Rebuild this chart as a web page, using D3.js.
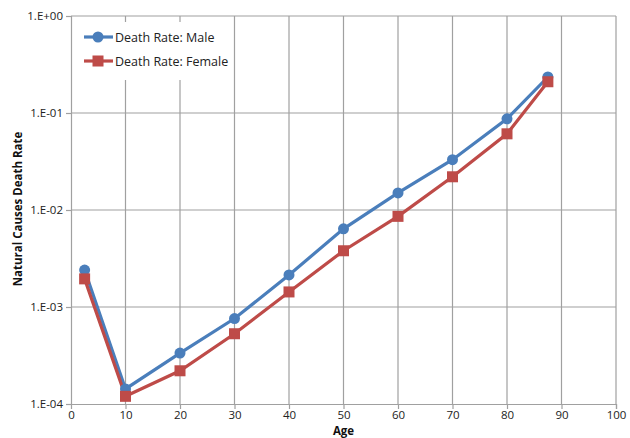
<!DOCTYPE html>
<html><head><meta charset="utf-8">
<script src="https://cdn.jsdelivr.net/npm/d3@7"></script>
<style>body{margin:0;background:#fff}svg{display:block}text{font-family:"Open Sans","Liberation Sans",sans-serif}</style>
</head><body><svg id="c" width="630" height="438"></svg>
<script>
const ages = [2.5, 10, 20, 30, 40, 50, 60, 70, 80, 87.5];
const male = [2.4e-3, 1.43e-4, 3.35e-4, 7.6e-4, 2.14e-3, 6.4e-3, 1.5e-2, 3.3e-2, 8.7e-2, 0.235];
const female = [1.95e-3, 1.2e-4, 2.2e-4, 5.3e-4, 1.43e-3, 3.8e-3, 8.6e-3, 2.2e-2, 6.1e-2, 0.21];
const xTicks = [0,10,20,30,40,50,60,70,80,90,100];
const yTicks = [1e-4,1e-3,1e-2,1e-1,1];
const yLabels = ["1.E-04","1.E-03","1.E-02","1.E-01","1.E+00"];
const seriesNames = ["Death Rate: Male","Death Rate: Female"];
const colors = ["#4a7ebb","#be4b48"];

const svg = d3.select("#c");
const L=71,R=616,T=16,B=404;
const x = d3.scaleLinear().domain([0,100]).range([L,R]);
const y = d3.scaleLog().domain([1e-4,1]).range([B,T]);
const grid="#a0a0a0";
svg.append("g").selectAll("line").data(xTicks.slice(1)).join("line")
  .attr("x1",d=>x(d)).attr("x2",d=>x(d)).attr("y1",T).attr("y2",B)
  .attr("stroke",grid).attr("stroke-width",1.2);
svg.append("g").selectAll("line").data(yTicks.slice(1)).join("line")
  .attr("x1",L).attr("x2",R).attr("y1",d=>y(d)).attr("y2",d=>y(d))
  .attr("stroke",grid).attr("stroke-width",1.2);
const xa = svg.append("g").attr("transform",`translate(0,${B})`)
  .call(d3.axisBottom(x).tickValues(xTicks).tickSize(5).tickPadding(2));
const ya = svg.append("g").attr("transform",`translate(${L},0)`)
  .call(d3.axisLeft(y).tickValues(yTicks).tickFormat((d,i)=>yLabels[i]).tickSize(5).tickPadding(3));
[xa,ya].forEach(a=>{a.select(".domain").attr("stroke",grid).attr("stroke-width",1.2);
 a.selectAll(".tick line").attr("stroke",grid).attr("stroke-width",1.2);
 a.selectAll("text").attr("font-size",11.5).attr("fill","#222").attr("font-family",'"Open Sans","Liberation Sans",sans-serif');});
xa.selectAll(".tick").filter(d=>d===0).select("line").remove();

svg.append("text").attr("x",x(50)).attr("y",435).attr("text-anchor","middle")
 .attr("font-size",11.5).attr("font-weight","bold").attr("fill","#111").text("Age");
svg.append("text").attr("transform",`translate(22,209) rotate(-90)`).attr("text-anchor","middle")
 .attr("font-size",11.5).attr("font-weight","bold").attr("fill","#111").text("Natural Causes Death Rate");

svg.append("rect").attr("x",78).attr("y",22).attr("width",150).attr("height",58).attr("fill","#fff");

const data=[male,female];
const line=d3.line().x((d,i)=>x(ages[i])).y(d=>y(d));
data.forEach((s,k)=>{
  svg.append("path").datum(s).attr("d",line).attr("fill","none").attr("stroke",colors[k]).attr("stroke-width",3.2);
});
svg.append("g").selectAll("circle").data(male).join("circle")
 .attr("cx",(d,i)=>x(ages[i])).attr("cy",d=>y(d)).attr("r",5.5).attr("fill",colors[0]);
svg.append("g").selectAll("rect").data(female).join("rect")
 .attr("x",(d,i)=>x(ages[i])-5.5).attr("y",d=>y(d)-5.5).attr("width",11).attr("height",11).attr("fill",colors[1]);

const lg=svg.append("g");
seriesNames.forEach((n,k)=>{
  const yy=37+k*24;
  lg.append("line").attr("x1",84).attr("x2",113).attr("y1",yy).attr("y2",yy).attr("stroke",colors[k]).attr("stroke-width",3.2);
  if(k===0) lg.append("circle").attr("cx",98).attr("cy",yy).attr("r",5.5).attr("fill",colors[k]);
  else lg.append("rect").attr("x",92.5).attr("y",yy-5.5).attr("width",11).attr("height",11).attr("fill",colors[k]);
  lg.append("text").attr("x",115).attr("y",yy+4.5).attr("font-size",12.5).attr("fill","#222").text(n);
});
</script></body></html>
